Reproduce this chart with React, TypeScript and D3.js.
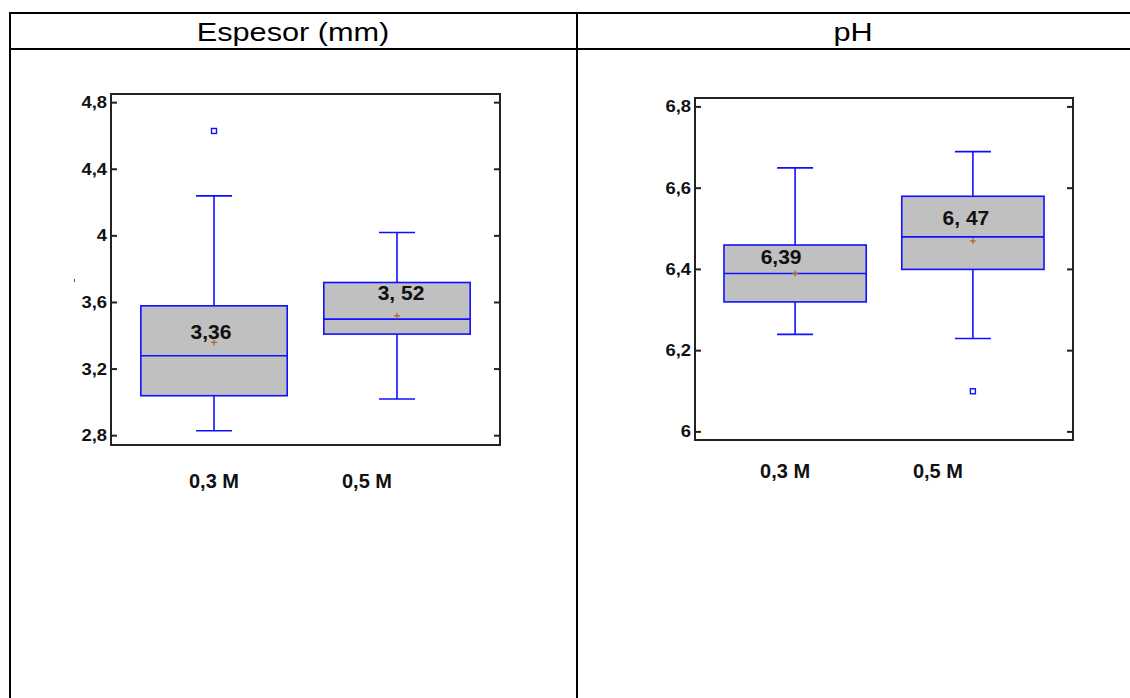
import React from "react";
import * as d3 from "d3";

// ---------- data ----------
const categories = ["0,3 M", "0,5 M"];

// Espesor (mm)
const espesorMin = [2.83, 3.02];
const espesorQ1 = [3.04, 3.41];
const espesorMedian = [3.28, 3.5];
const espesorQ3 = [3.58, 3.72];
const espesorMax = [4.24, 4.02];
const espesorMean = [3.36, 3.52];
const espesorOutliers = [[4.63], []];
const espesorLabels = ["3,36", "3, 52"];
const espesorLabelAt = [3.381, 3.615];
const espesorTicks = [2.8, 3.2, 3.6, 4, 4.4, 4.8];
const espesorTickLabels = ["2,8", "3,2", "3,6", "4", "4,4", "4,8"];
const espesorDomain = [2.744, 4.852];

// pH
const phMin = [6.24, 6.23];
const phQ1 = [6.32, 6.4];
const phMedian = [6.39, 6.48];
const phQ3 = [6.46, 6.58];
const phMax = [6.65, 6.69];
const phMean = [6.39, 6.47];
const phOutliers = [[], [6.1]];
const phLabels = ["6,39", "6, 47"];
const phLabelAt = [6.414, 6.51];
const phTicks = [6, 6.2, 6.4, 6.6, 6.8];
const phTickLabels = ["6", "6,2", "6,4", "6,6", "6,8"];
const phDomain = [5.98, 6.822];

const FONT = "'Liberation Sans', Arial, Helvetica, sans-serif";
const BLUE = "#1010ff";

type PanelProps = {
  x0: number; x1: number; y0: number; y1: number;
  domain: number[];
  mins: number[]; q1: number[]; med: number[]; q3: number[]; maxs: number[];
  means: number[]; outliers: number[][];
  labels: string[]; labelAt: number[]; labelDx: number[];
  ticks: number[]; tickLabels: string[];
  catDx: number[]; catY: number;
};

function Panel(p: PanelProps) {
  const y = d3.scaleLinear().domain(p.domain).range([p.y1, p.y0]);
  const x = d3.scaleBand().domain(categories).range([p.x0, p.x1]).paddingInner(0.2).paddingOuter(0.163);
  const bw = x.bandwidth();
  const cap = 18;
  return (
    <g>
      {/* boxes */}
      {categories.map((c, i) => {
        const cx = (x(c) as number) + bw / 2;
        const left = x(c) as number;
        return (
          <g key={c}>
            <line x1={cx} x2={cx} y1={y(p.maxs[i])} y2={y(p.q3[i])} stroke={BLUE} strokeWidth={1.6} />
            <line x1={cx} x2={cx} y1={y(p.q1[i])} y2={y(p.mins[i])} stroke={BLUE} strokeWidth={1.6} />
            <line x1={cx - cap} x2={cx + cap} y1={y(p.maxs[i])} y2={y(p.maxs[i])} stroke={BLUE} strokeWidth={1.6} />
            <line x1={cx - cap} x2={cx + cap} y1={y(p.mins[i])} y2={y(p.mins[i])} stroke={BLUE} strokeWidth={1.6} />
            <rect x={left} y={y(p.q3[i])} width={bw} height={y(p.q1[i]) - y(p.q3[i])} fill="#c0c0c0" stroke={BLUE} strokeWidth={1.6} />
            <line x1={left} x2={left + bw} y1={y(p.med[i])} y2={y(p.med[i])} stroke={BLUE} strokeWidth={1.6} />
            {/* mean marker */}
            <line x1={cx - 3} x2={cx + 3} y1={y(p.means[i])} y2={y(p.means[i])} stroke="#b0602a" strokeWidth={1.2} />
            <line x1={cx} x2={cx} y1={y(p.means[i]) - 3} y2={y(p.means[i]) + 3} stroke="#b0602a" strokeWidth={1.2} />
            {p.outliers[i].map((v, k) => (
              <rect key={k} x={cx - 2.5} y={y(v) - 2.5} width={5} height={5} fill="white" stroke={BLUE} strokeWidth={1.4} />
            ))}
            <text x={cx + p.labelDx[i]} y={y(p.labelAt[i])} textAnchor="middle" fontFamily={FONT} fontWeight="bold" fontSize={21} fill="#111">
              {p.labels[i]}
            </text>
            <text x={cx + p.catDx[i]} y={p.catY} textAnchor="middle" fontFamily={FONT} fontWeight="bold" fontSize={20} fill="#111">
              {c}
            </text>
          </g>
        );
      })}
      {/* frame */}
      <rect x={p.x0} y={p.y0} width={p.x1 - p.x0} height={p.y1 - p.y0} fill="none" stroke="#222" strokeWidth={2} />
      {p.ticks.map((t, i) => (
        <g key={t}>
          <line x1={p.x0} x2={p.x0 + 6} y1={y(t)} y2={y(t)} stroke="#222" strokeWidth={2} />
          <line x1={p.x1 - 6} x2={p.x1} y1={y(t)} y2={y(t)} stroke="#222" strokeWidth={2} />
          <text transform={`translate(${p.x0 - 4},${y(t) + 5.5}) scale(1.15,1)`} textAnchor="end" fontFamily={FONT} fontWeight="bold" fontSize={16} fill="#111">
            {p.tickLabels[i]}
          </text>
        </g>
      ))}
    </g>
  );
}

export default function App() {
  return (
    <svg width={1130} height={698} style={{ position: "absolute", left: 0, top: 0, background: "white" }}>
      <rect x={0} y={0} width={1130} height={698} fill="white" />
      {/* table */}
      <line x1={9} x2={1130} y1={13} y2={13} stroke="#000" strokeWidth={2} />
      <line x1={9} x2={1130} y1={49} y2={49} stroke="#000" strokeWidth={2} />
      <line x1={10} x2={10} y1={12} y2={698} stroke="#000" strokeWidth={2} />
      <line x1={577} x2={577} y1={12} y2={698} stroke="#000" strokeWidth={2} />
      <text transform="translate(293,41) scale(1.18,1)" textAnchor="middle" fontFamily={FONT} fontSize={26} fill="#000">Espesor (mm)</text>
      <text transform="translate(853,41) scale(1.18,1)" textAnchor="middle" fontFamily={FONT} fontSize={26} fill="#000">pH</text>
      {/* small stray mark */}
      <line x1={74.5} x2={74.5} y1={279} y2={282} stroke="#555" strokeWidth={1} />
      <Panel
        x0={111} x1={500} y0={94} y1={445}
        domain={espesorDomain}
        mins={espesorMin} q1={espesorQ1} med={espesorMedian} q3={espesorQ3} maxs={espesorMax}
        means={espesorMean} outliers={espesorOutliers}
        labels={espesorLabels} labelAt={espesorLabelAt} labelDx={[-3, 4]}
        ticks={espesorTicks} tickLabels={espesorTickLabels}
        catDx={[0, -30]} catY={488}
      />
      <Panel
        x0={695} x1={1073} y0={98} y1={440}
        domain={phDomain}
        mins={phMin} q1={phQ1} med={phMedian} q3={phQ3} maxs={phMax}
        means={phMean} outliers={phOutliers}
        labels={phLabels} labelAt={phLabelAt} labelDx={[-14, -7]}
        ticks={phTicks} tickLabels={phTickLabels}
        catDx={[-10, -35]} catY={478}
      />
    </svg>
  );
}
